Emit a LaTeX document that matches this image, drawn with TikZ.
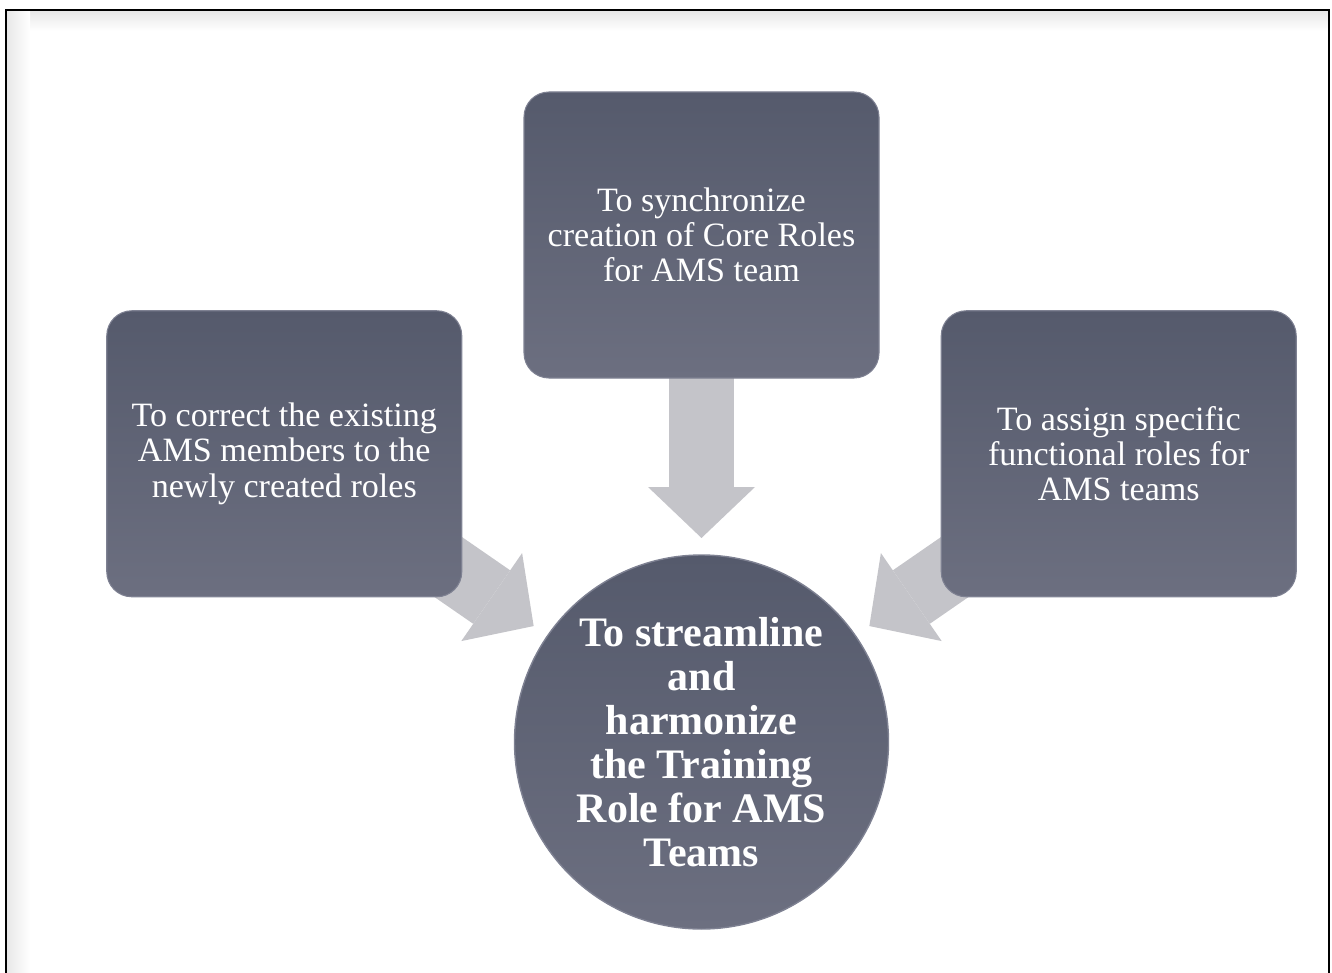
\documentclass[tikz,border=0pt]{standalone}
\usepackage{fontspec}
\setmainfont{Liberation Serif}
\usetikzlibrary{arrows.meta, positioning, backgrounds}
\definecolor{boxtop}{HTML}{555A6C}
\definecolor{boxbot}{HTML}{6C6F80}
\definecolor{rimgray}{HTML}{7E8192}
\definecolor{arrowgray}{HTML}{C4C4C9}

\begin{document}
\begin{tikzpicture}[
    goalbox/.style={rectangle, rounded corners=0.5cm, top color=boxtop, bottom color=boxbot, draw=rimgray, line width=0.6pt, minimum width=7.1cm, minimum height=5.72cm, align=center, text=white, font=\fontsize{19.4}{20}\selectfont, outer sep=0pt},
    hub/.style={circle, top color=boxtop, bottom color=boxbot, draw=rimgray, line width=0.8pt, minimum size=7.48cm, inner sep=0pt, outer sep=0pt, align=center, text=white, font=\bfseries\fontsize{23.9}{25}\selectfont},
    arrow/.style={draw=arrowgray, line width=1.3cm, -{Triangle[length=1.02cm, width=2.14cm, line width=0pt]}, shorten >=0.34cm}
]
    \useasboundingbox (0,0) rectangle (26.64,-19.46);
    % page frame with a soft inner shadow
    \shade[top color=gray!18, bottom color=white] (0.14,-0.22) rectangle (26.56,-0.62);
    \shade[left color=gray!18, right color=white] (0.14,-0.22) rectangle (0.6,-19.46);
    \draw[line width=1.2pt] (0.12,-19.6) -- (0.12,-0.2) -- (26.58,-0.2) -- (26.58,-19.6);

    \node[hub] (hub) at (14.03,-14.84) {To streamline\\and\\harmonize\\the Training\\Role for AMS\\Teams};
    \node[goalbox, above=3.54cm of hub] (sync) {To synchronize\\creation of Core Roles\\for AMS team};
    \node[goalbox, above left=0.26cm and 2.15cm of hub] (correct) {To correct the existing\\AMS members to the\\newly created roles};
    \node[goalbox, above right=0.26cm and 2.15cm of hub] (assign) {To assign specific\\functional roles for\\AMS teams};

    \begin{scope}[on background layer]
        \draw[arrow] (sync) -- (hub);
        \draw[arrow] (correct.center) -- (hub);
        \draw[arrow] (assign.center) -- (hub);
    \end{scope}
\end{tikzpicture}
\end{document}
